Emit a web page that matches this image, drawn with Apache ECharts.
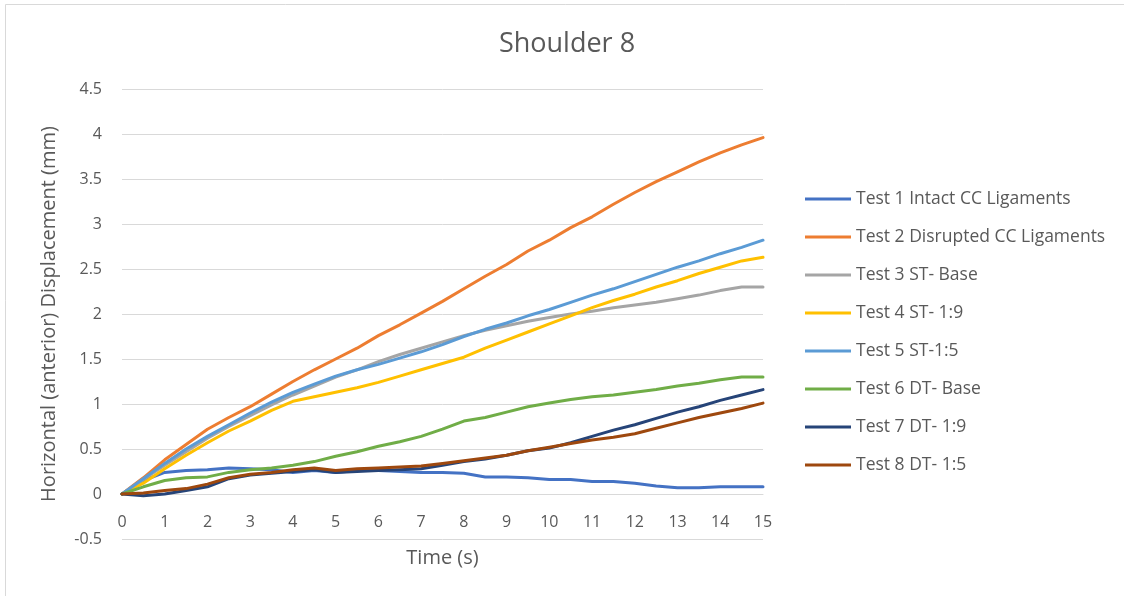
<!DOCTYPE html>
<html>
<head>
<meta charset="utf-8">
<script src="https://cdn.jsdelivr.net/npm/echarts@6/dist/echarts.min.js"></script>
<style>html,body{margin:0;padding:0;background:#fff;}#c{width:1124px;height:596px;}</style>
</head>
<body>
<div id="c"></div>
<script>
const times = [0,0.5,1,1.5,2,2.5,3,3.5,4,4.5,5,5.5,6,6.5,7,7.5,8,8.5,9,9.5,10,10.5,11,11.5,12,12.5,13,13.5,14,14.5,15];
const seriesNames = ["Test 1 Intact CC Ligaments","Test 2 Disrupted CC Ligaments","Test 3 ST- Base","Test 4 ST- 1:9","Test 5 ST-1:5","Test 6 DT- Base","Test 7 DT- 1:9","Test 8 DT- 1:5"];
const test1 = [0,0.15,0.24,0.26,0.27,0.29,0.28,0.27,0.24,0.26,0.24,0.26,0.26,0.25,0.24,0.24,0.23,0.19,0.19,0.18,0.16,0.16,0.14,0.14,0.12,0.09,0.07,0.07,0.08,0.08,0.08];
const test2 = [0,0.18,0.38,0.55,0.72,0.85,0.97,1.11,1.25,1.38,1.50,1.62,1.76,1.88,2.01,2.14,2.28,2.42,2.55,2.70,2.82,2.96,3.08,3.22,3.35,3.47,3.58,3.69,3.79,3.88,3.96];
const test3 = [0,0.16,0.32,0.47,0.62,0.75,0.87,0.99,1.10,1.20,1.30,1.38,1.47,1.55,1.62,1.69,1.76,1.82,1.87,1.92,1.96,2.00,2.03,2.07,2.10,2.13,2.17,2.21,2.26,2.30,2.30];
const test4 = [0,0.12,0.28,0.43,0.57,0.70,0.81,0.93,1.03,1.08,1.13,1.18,1.24,1.31,1.38,1.45,1.52,1.62,1.71,1.80,1.89,1.98,2.07,2.15,2.22,2.30,2.37,2.45,2.52,2.59,2.63];
const test5 = [0,0.17,0.34,0.50,0.64,0.77,0.90,1.02,1.13,1.22,1.31,1.38,1.44,1.51,1.58,1.66,1.75,1.83,1.90,1.98,2.05,2.13,2.21,2.28,2.36,2.44,2.52,2.59,2.67,2.74,2.82];
const test6 = [0,0.08,0.15,0.18,0.19,0.24,0.27,0.29,0.32,0.36,0.42,0.47,0.53,0.58,0.64,0.72,0.81,0.85,0.91,0.97,1.01,1.05,1.08,1.10,1.13,1.16,1.20,1.23,1.27,1.30,1.30];
const test7 = [0,-0.02,0.00,0.04,0.08,0.17,0.21,0.23,0.25,0.27,0.24,0.25,0.26,0.27,0.28,0.32,0.36,0.39,0.43,0.48,0.51,0.57,0.64,0.71,0.77,0.84,0.91,0.97,1.04,1.10,1.16];
const test8 = [0,0.01,0.04,0.06,0.11,0.18,0.22,0.24,0.27,0.29,0.26,0.28,0.29,0.30,0.31,0.34,0.37,0.40,0.43,0.48,0.52,0.56,0.60,0.63,0.67,0.73,0.79,0.85,0.90,0.95,1.01];
const colors = ["#4472C4","#ED7D31","#A5A5A5","#FFC000","#5B9BD5","#70AD47","#264478","#9E480E"];
const allValues = [test1,test2,test3,test4,test5,test6,test7,test8];

const FONT = "'Open Sans', sans-serif";
const chart = echarts.init(document.getElementById('c'), null, {renderer:'canvas'});
chart.setOption({
  backgroundColor:'#fff',
  animation:false,
  title:{text:'Shoulder 8', left:567, top:31, textAlign:'center', padding:0,
    textStyle:{fontFamily:FONT, fontSize:27, fontWeight:'normal', color:'#595959'}},
  graphic:[{type:'rect', shape:{x:5.5,y:4.5,width:1200,height:700}, style:{fill:'none', stroke:'#d9d9d9', lineWidth:1}, silent:true}],
  legend:{orient:'vertical', left:805, top:190, padding:0, itemWidth:46, itemHeight:14, itemGap:20,
    icon:'path://M0,6 L46,6 L46,9 L0,9 Z',
    textStyle:{fontFamily:FONT, fontSize:17.5, color:'#595959', padding:[0,0,0,0]},
    data:seriesNames},
  grid:{left:122, right:361, top:89, bottom:57, containLabel:false, outerBoundsMode:'none'},
  xAxis:{type:'value', min:0, max:15, interval:1, offset:-45,
    name:'Time (s)', nameLocation:'middle', nameGap:54,
    nameTextStyle:{fontFamily:FONT, fontSize:20, color:'#595959'},
    axisLine:{onZero:false, lineStyle:{color:'#d9d9d9'}},
    axisTick:{show:false},
    axisLabel:{fontFamily:FONT, fontSize:16, color:'#595959', margin:20},
    splitLine:{show:false}},
  yAxis:{type:'value', min:-0.5, max:4.5, interval:0.5,
    name:'Horizontal (anterior) Displacement (mm)', nameLocation:'middle', nameGap:63, nameRotate:90,
    nameTextStyle:{fontFamily:FONT, fontSize:20, color:'#595959'},
    axisLine:{show:false}, axisTick:{show:false},
    axisLabel:{fontFamily:FONT, fontSize:16, color:'#595959', margin:20},
    splitLine:{lineStyle:{color:'#d9d9d9', width:1}}},
  series: seriesNames.map((n,i)=>({
    name:n, type:'line', symbol:'none', smooth:false,
    data: times.map((t,k)=>[t, allValues[i][k]]),
    lineStyle:{width:3, color:colors[i], cap:'round', join:'round'},
    itemStyle:{color:colors[i]}
  }))
});
</script>
</body>
</html>
